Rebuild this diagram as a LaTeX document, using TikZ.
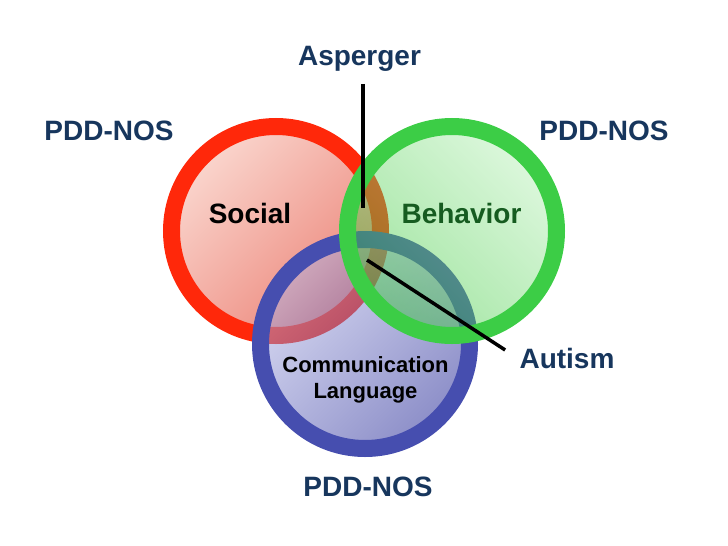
\documentclass[tikz,border=0pt]{standalone}
\usepackage{fontspec}
\setmainfont{Liberation Sans}
\usepackage{xcolor}
\definecolor{navy}{RGB}{23,54,93}
\definecolor{leafgreen}{RGB}{22,92,32}
\definecolor{redring}{RGB}{255,40,10}
\definecolor{greenring}{RGB}{60,205,70}
\definecolor{bluering}{RGB}{70,78,175}

\begin{document}
\begin{tikzpicture}[x=0.5pt,y=-0.5pt,
  lbl/.style={navy,inner sep=0pt,font=\fontsize{14}{16}\selectfont\bfseries},
  area/.style={inner sep=0pt,font=\fontsize{14}{16}\selectfont\bfseries},
  ring/.style={line width=8.5pt},
  pointer/.style={black,line width=1.75pt}]
\useasboundingbox (0,0) rectangle (728,546);
\shade [top color={rgb,255:red,250;green,214;blue,206}, bottom color={rgb,255:red,236;green,132;blue,120}, shading angle=45] (276,231) circle [radius=104.5];
\draw [ring, redring] (276,231) circle [radius=104.5];
\shade [fill opacity=0.5, top color={rgb,255:red,175;green,179;blue,229}, bottom color={rgb,255:red,25;green,29;blue,145}, shading angle=45] (365,344) circle [radius=104.5];
\draw [ring, bluering] (365,344) circle [radius=104.5];
\shade [fill opacity=0.45, top color={rgb,255:red,178;green,238;blue,178}, bottom color={rgb,255:red,44;green,196;blue,44}, shading angle=-45] (452,231) circle [radius=104.5];
\draw [ring, greenring] (452,231) circle [radius=104.5];
\node [lbl] (asp) at (359.5,59) {Asperger};
\node [lbl] (pddL) at (109,130.5) {PDD-NOS};
\node [lbl] (pddR) at (604,130.5) {PDD-NOS};
\node [lbl] (pddB) at (368,487) {PDD-NOS};
\node [lbl] (aut) at (567,358) {Autism};
\node [area] (soc) at (250,213) {Social};
\node [area, leafgreen] (beh) at (461.5,213) {Behavior};
\node [area, align=center, font=\fontsize{11}{13}\selectfont\bfseries] (com) at (365.5,380) {Communication\\Language};
\coordinate (aspTip) at (363,208);
\coordinate (autTip) at (367,260);
\draw [pointer, shorten <=6pt] (asp.south -| aspTip) -- (aspTip);
\draw [pointer] (autTip) -- ([xshift=-7pt,yshift=4pt]aut.west);
\end{tikzpicture}
\end{document}
